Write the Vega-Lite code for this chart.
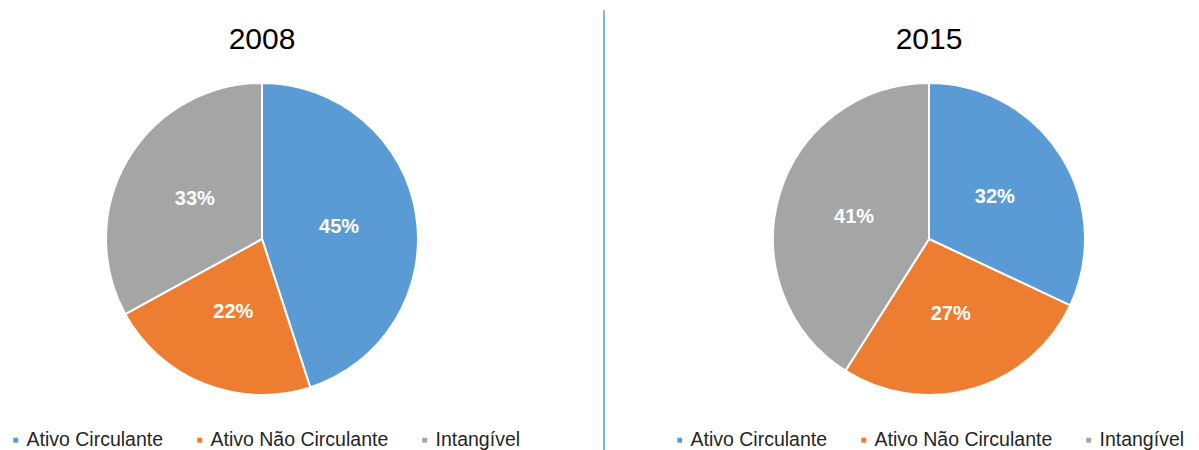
{
  "$schema": "https://vega.github.io/schema/vega-lite/v6.json",
  "padding": {"left": 0, "top": 9, "right": 0, "bottom": 0},
  "spacing": 65,
  "center": true,
  "background": "white",
  "config": {
    "view": {"stroke": null},
    "font": "Liberation Sans",
    "title": {"fontSize": 30, "font": "Liberation Sans", "fontWeight": "normal", "color": "#000000", "lineHeight": 14, "offset": 24, "anchor": "middle"},
    "arc": {"outerRadius": 156, "stroke": "#ffffff", "strokeWidth": 2},
    "legend": {
      "orient": "none",
      "direction": "horizontal",
      "padding": 0,
      "symbolType": "square",
      "symbolSize": 49,
      "symbolStrokeWidth": 0,
      "labelFont": "Liberation Sans",
      "labelFontSize": 19.5,
      "labelColor": "#262626",
      "labelOffset": 1,
      "columnPadding": 26,
      "labelLimit": 400
    }
  },
  "datasets": {
    "ativos": [
      {"ano": "2008", "grupo": "Ativo Circulante", "ordem": 1, "participacao": 0.45},
      {"ano": "2008", "grupo": "Ativo Não Circulante", "ordem": 2, "participacao": 0.22},
      {"ano": "2008", "grupo": "Intangível", "ordem": 3, "participacao": 0.33},
      {"ano": "2015", "grupo": "Ativo Circulante", "ordem": 1, "participacao": 0.32},
      {"ano": "2015", "grupo": "Ativo Não Circulante", "ordem": 2, "participacao": 0.27},
      {"ano": "2015", "grupo": "Intangível", "ordem": 3, "participacao": 0.41}
    ]
  },
  "hconcat": [
    {
      "width": 524,
      "height": 312,
      "title": {"text": ["", "2008"]},
      "data": {"name": "ativos"},
      "transform": [{"filter": "datum.ano === '2008'"}],
      "encoding": {
        "theta": {"field": "participacao", "type": "quantitative", "stack": true},
        "order": {"field": "ordem", "type": "quantitative"}
      },
      "layer": [
        {
          "mark": {"type": "arc"},
          "encoding": {
            "color": {
              "field": "grupo",
              "type": "nominal",
              "scale": {
                "domain": ["Ativo Circulante", "Ativo Não Circulante", "Intangível"],
                "range": ["#5B9BD5", "#ED7D31", "#A5A5A5"]
              },
              "legend": {"title": null, "legendX": 6, "legendY": 347}
            }
          }
        },
        {
          "mark": {"type": "text", "radius": 78, "fill": "#ffffff", "fontSize": 20, "fontWeight": "bold", "font": "Liberation Sans"},
          "encoding": {
            "text": {"field": "participacao", "type": "quantitative", "format": ".0%"}
          }
        }
      ]
    },
    {
      "width": 15,
      "height": 512,
      "data": {"values": [{"divisor": 1}]},
      "mark": {"type": "rule", "stroke": "#5B9BD5", "strokeWidth": 1.5},
      "encoding": {
        "x": {"field": "divisor", "type": "quantitative", "scale": {"domain": [0, 1]}, "axis": null}
      }
    },
    {
      "width": 518,
      "height": 312,
      "title": {"text": ["", "2015"]},
      "data": {"name": "ativos"},
      "transform": [{"filter": "datum.ano === '2015'"}],
      "encoding": {
        "theta": {"field": "participacao", "type": "quantitative", "stack": true},
        "order": {"field": "ordem", "type": "quantitative"}
      },
      "layer": [
        {
          "mark": {"type": "arc"},
          "encoding": {
            "color": {
              "field": "grupo",
              "type": "nominal",
              "scale": {
                "domain": ["Ativo Circulante", "Ativo Não Circulante", "Intangível"],
                "range": ["#5B9BD5", "#ED7D31", "#A5A5A5"]
              },
              "legend": {"title": null, "legendX": 0, "legendY": 347}
            }
          }
        },
        {
          "mark": {"type": "text", "radius": 78, "fill": "#ffffff", "fontSize": 20, "fontWeight": "bold", "font": "Liberation Sans"},
          "encoding": {
            "text": {"field": "participacao", "type": "quantitative", "format": ".0%"}
          }
        }
      ]
    }
  ],
  "resolve": {"scale": {"color": "independent", "theta": "independent"}}
}
